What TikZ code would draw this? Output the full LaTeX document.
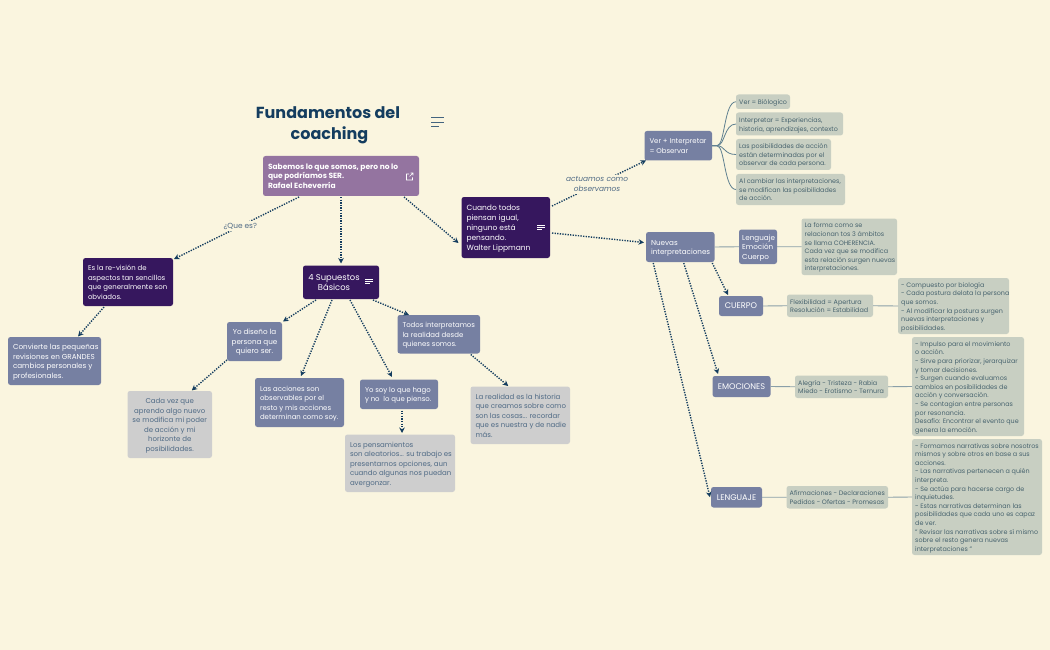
\documentclass[tikz,border=0pt]{standalone}
\usepackage{fontspec}
\setmainfont{Poppins}
\usetikzlibrary{arrows.meta,calc}
\definecolor{bgc}{HTML}{FAF5DF}
\definecolor{rootc}{HTML}{9474A0}
\definecolor{darkc}{HTML}{36175E}
\definecolor{slatec}{HTML}{7680A2}
\definecolor{grayc}{HTML}{CECECE}
\definecolor{sagec}{HTML}{C8CFC2}
\definecolor{inkc}{HTML}{143D5F}
\definecolor{graytxt}{HTML}{4F6A85}
\definecolor{sagetxt}{HTML}{47636E}
\definecolor{tiec}{HTML}{8A9FA8}
\definecolor{curvec}{HTML}{5F8090}
\newcommand\gbx[9]{%
  \pgfmathsetmacro\cxv{(#5+#7)/2}%
  \pgfmathsetmacro\cyv{(#6+#8)/2}%
  \pgfmathsetmacro\wv{#7-#5}%
  \pgfmathsetmacro\hv{#8-#6}%
  \pgfmathsetmacro\tw{#7-#5-2*#1}%
  \node[cardbox, minimum width=\wv pt, minimum height=\hv pt, #3] (#4) at (\cxv,\cyv)
    {\vbox{\kern2pt\hbox{\makebox[\tw pt][#2]{\begin{tabular}{@{}#2@{}}#9\end{tabular}}}}};%
}
\newcommand\bx[7][]{\gbx{5}{l}{#1}{#2}{#3}{#4}{#5}{#6}{#7}}
\newcommand\bxs[7][]{\gbx{3.2}{l}{#1}{#2}{#3}{#4}{#5}{#6}{#7}}
\newcommand\bxc[7][]{\gbx{2}{c}{#1}{#2}{#3}{#4}{#5}{#6}{#7}}
\tikzset{
  x=1pt, y=-1pt,
  cardbox/.style={rounded corners=2.5pt, inner sep=0pt, outer sep=0pt},
  rootbox/.style={fill=rootc, text=white, font=\fontsize{7.5}{9.9}\selectfont\bfseries},
  darkbox/.style={fill=darkc, text=white, font=\fontsize{7.5}{9.8}\selectfont},
  darktight/.style={fill=darkc, text=white, font=\fontsize{6.95}{9.5}\selectfont},
  slatebox/.style={fill=slatec, text=white, font=\fontsize{7.2}{9.5}\selectfont},
  slatetight/.style={fill=slatec, text=white, font=\fontsize{6.95}{9.6}\selectfont},
  slatecaps/.style={fill=slatec, text=white, font=\fontsize{8.2}{9.5}\selectfont},
  graybox/.style={fill=grayc, text=graytxt, font=\fontsize{7}{9.5}\selectfont},
  sagebox/.style={fill=sagec, text=sagetxt, font=\fontsize{6.4}{8.6}\selectfont},
  link/.style={draw=inkc, line width=1.4pt, dash pattern=on 1.3pt off 1.3pt, -{Stealth[length=5.5pt,width=5.5pt]}},
  tie/.style={draw=tiec, line width=0.9pt},
  curvetie/.style={draw=curvec, line width=0.8pt},
  edgelabel/.style={fill=bgc, text=graytxt, inner sep=2pt, align=center, font=\fontsize{7.4}{10}\selectfont},
  menuline/.style={line width=0.9pt},
}
\begin{document}
\begin{tikzpicture}
\useasboundingbox (0,0) rectangle (1050,650);
\fill[bgc] (0,0) rectangle (1050,650);

\node[text=inkc, align=center, font=\fontsize{16}{21}\selectfont\bfseries] (title) at (328,125) {Fundamentos del\\\hspace*{3pt}coaching};
\draw[menuline, draw=inkc!80] (431,117.7) -- (444,117.7) (431,122.3) -- (444,122.3) (431,126.7) -- (439,126.7);

\bx[rootbox]{root}{263}{156}{419}{196}{Sabemos lo que somos, pero no lo\\que podríamos SER.\\Rafael Echeverría}
\draw[white, line width=0.6pt] (409,174) -- (406.5,174) -- (406.5,180) -- (412.5,180) -- (412.5,177.5) (409.5,176.5) -- (413,173) (410.5,173) -- (413,173) -- (413,175.5);

\bx[darkbox]{cuando}{461.5}{197}{550}{258}{Cuando todos\\piensan igual,\\ninguno está\\pensando.\\Walter Lippmann}
\draw[menuline, white] (537,225) -- (545,225) (537,227.3) -- (545,227.3) (537,229.6) -- (542,229.6);

\bxc[darkbox,font=\fontsize{8.4}{10.8}\selectfont]{sup}{303}{265.5}{379}{299}{4 Supuestos\hspace*{14pt}\\Básicos\hspace*{14pt}}
\draw[menuline, white] (365,279) -- (373,279) (365,281.4) -- (373,281.4) (365,283.8) -- (370,283.8);

\bx[darktight]{esla}{83}{258}{173}{306}{Es la re-visión de\\aspectos tan sencillos\\que generalmente son\\obviados.}
\bx[slatebox]{conv}{8}{337}{101}{385}{Convierte las pequeñas\\revisiones en GRANDES\\cambios personales y\\profesionales.}
\bxc[graybox]{cada}{127.5}{391}{212}{458}{Cada vez que\\aprendo algo nuevo\\se modifica mi poder\\de acción y mi\\horizonte de\\posibilidades.}
\bxc[slatebox]{yodis}{227}{322}{282}{361}{Yo diseño la\\persona que\\quiero ser.}
\bx[slatetight]{acc}{255}{378}{344}{427}{Las acciones son\\observables por el\\resto y mis acciones\\determinan como soy.}
\bx[slatetight]{yosoy}{360}{379.5}{438}{409}{Yo soy lo que hago\\y no~ lo que pienso.}
\bx[graybox]{los}{345}{434.5}{455}{492}{Los pensamientos\\son aleatorios... su trabajo es\\presentarnos opciones, aun\\cuando algunas nos puedan\\avergonzar.}
\bx[slatetight]{todos}{397.5}{315}{480}{353.5}{Todos interpretamos\\la realidad desde\\quienes somos.}
\bx[graybox]{realidad}{470.5}{386.5}{570}{444}{La realidad es la historia\\que creamos sobre como\\son las cosas... recordar\\que es nuestra y de nadie\\más.}

\bx[slatetight]{ver}{644.5}{131}{712}{160.5}{Ver + Interpretar\\= Observar}
\bxs[sagebox]{t1}{736}{94.5}{790}{109}{Ver = Biólogico}
\bxs[sagebox]{t2}{736}{112.5}{843}{135.5}{Interpretar = Experiencias,\\historia, aprendizajes, contexto}
\bxs[sagebox]{t3}{736}{139}{831}{170}{Las posibilidades de acción\\están determinadas por el\\observar de cada persona.}
\bxs[sagebox]{t4}{736}{174}{845}{205}{Al cambiar las interpretaciones,\\se modifican las posibilidades\\de acción.}

\bx[slatebox]{nuevas}{646}{232}{714.5}{262}{Nuevas\\interpretaciones}
\bxs[slatebox]{lec}{739}{229.5}{777}{264}{Lenguaje\\Emoción\\Cuerpo}
\bxs[sagebox]{forma}{801.5}{218.5}{897}{275}{La forma como se\\relacionan tos 3 ámbitos\\se llama COHERENCIA.\\Cada vez que se modifica\\esta relación surgen nuevas\\interpretaciones.}

\bxc[slatecaps]{cuerpo}{719}{296}{763}{316}{CUERPO}
\bxs[sagebox]{flex}{787}{294.5}{873}{317}{Flexibilidad = Apertura\\Resolución = Estabilidad}
\bxs[sagebox]{comp}{898}{278}{1009}{334}{- Compuesto por biología\\- Cada postura delata la persona\\que somos.\\- Al modificar la postura surgen\\nuevas interpretaciones y\\posibilidades.}

\bxc[slatecaps]{emoc}{712.5}{376}{770.5}{397}{EMOCIONES}
\bxs[sagebox]{aleg}{795}{375.5}{888}{398}{Alegría - Tristeza - Rabia\\Miedo - Erotismo - Ternura}
\bxs[sagebox]{imp}{912}{337}{1024}{436}{- Impulso para el movimiento\\o acción.\\- Sirve para priorizar, jerarquizar\\y tomar decisiones.\\- Surgen cuando evaluamos\\cambios en posibilidades de\\acción y conversación.\\- Se contagian entre personas\\por resonancia.\\Desafío: Encontrar el evento que\\genera la emoción.}

\bxc[slatecaps]{lengn}{711}{487}{762}{507.5}{LENGUAJE}
\bxs[sagebox]{afirm}{786.5}{486}{888}{508.5}{Afirmaciones - Declaraciones\\Pedidos - Ofertas - Promesas}
\bxs[sagebox]{form}{912}{439}{1042}{555}{- Formamos narrativas sobre nosotros\\mismos y sobre otros en base a sus\\acciones.\\- Las narrativas pertenecen a quién\\interpreta.\\- Se actúa para hacerse cargo de\\inquietudes.\\- Estas narrativas determinan las\\posibilidades que cada uno es capaz\\de ver.\\" Revisar las narrativas sobre sí mismo\\sobre el resto genera nuevas\\interpretaciones "}

\draw[link] ([shift={(-42,1)}]root.south) -- node[edgelabel, pos=0.47] (que) {¿Que es?} ([shift={(1,1)}]esla.north east);
\draw[link] ([shift={(0,1)}]root.south) -- ([shift={(0,-2)}]sup.north);
\draw[link] ([shift={(63,1)}]root.south) -- ([shift={(-3,15.5)}]cuando.west);
\draw[link] ([shift={(2,-21.5)}]cuando.east) -- node[edgelabel, pos=0.48, font=\fontsize{7.4}{10}\selectfont\itshape] (actuamos) {actuamos como\\observamos} ([shift={(1.5,0)}]ver.south west);
\draw[link] ([shift={(2,5.5)}]cuando.east) -- ([shift={(-2,-4.5)}]nuevas.west);
\draw[link] ([shift={(-24,1)}]esla.south) -- ([shift={(23.5,-0.5)}]conv.north);
\draw[link] ([shift={(-25,1)}]sup.south) -- ([shift={(1,-0.5)}]yodis.north east);
\draw[link] ([shift={(-9,1)}]sup.south) -- ([shift={(1.5,-2)}]acc.north);
\draw[link] ([shift={(9,1)}]sup.south) -- ([shift={(-7,-2.5)}]yosoy.north);
\draw[link] ([shift={(32,1)}]sup.south) -- ([shift={(-29.75,0)}]todos.north);
\draw[link] ([shift={(0,-1)}]yodis.south west) -- ([shift={(22,-0.5)}]cada.north);
\draw[link] ([shift={(3,1.5)}]yosoy.south) -- ([shift={(2,-1.5)}]los.north);
\draw[link] ([shift={(32,1)}]todos.south) -- ([shift={(-12,-0.5)}]realidad.north);
\draw[link] ([shift={(32,1)}]nuevas.south) -- ([shift={(-13,-1)}]cuerpo.north);
\draw[link] ([shift={(3.5,1)}]nuevas.south) -- ([shift={(-23.5,-2)}]emoc.north);
\draw[link] ([shift={(-27,1)}]nuevas.south) -- ([shift={(-1,0)}]lengn.west);

\foreach \t in {t1,t2,t3,t4}
  \draw[curvetie] (ver.east) -- ++(5,0) .. controls +(8,0) and ($(\t.west)+(-12,0)$) .. (\t.west);
\draw[tie] (nuevas.east) -- (lec.west) (lec.east) -- (forma.west);
\draw[tie] (cuerpo.east) -- (flex.west) (flex.east) -- (comp.west);
\draw[tie] (emoc.east) -- (aleg.west) (aleg.east) -- (imp.west);
\draw[tie] (lengn.east) -- (afirm.west) (afirm.east) -- (form.west);
\end{tikzpicture}
\end{document}
